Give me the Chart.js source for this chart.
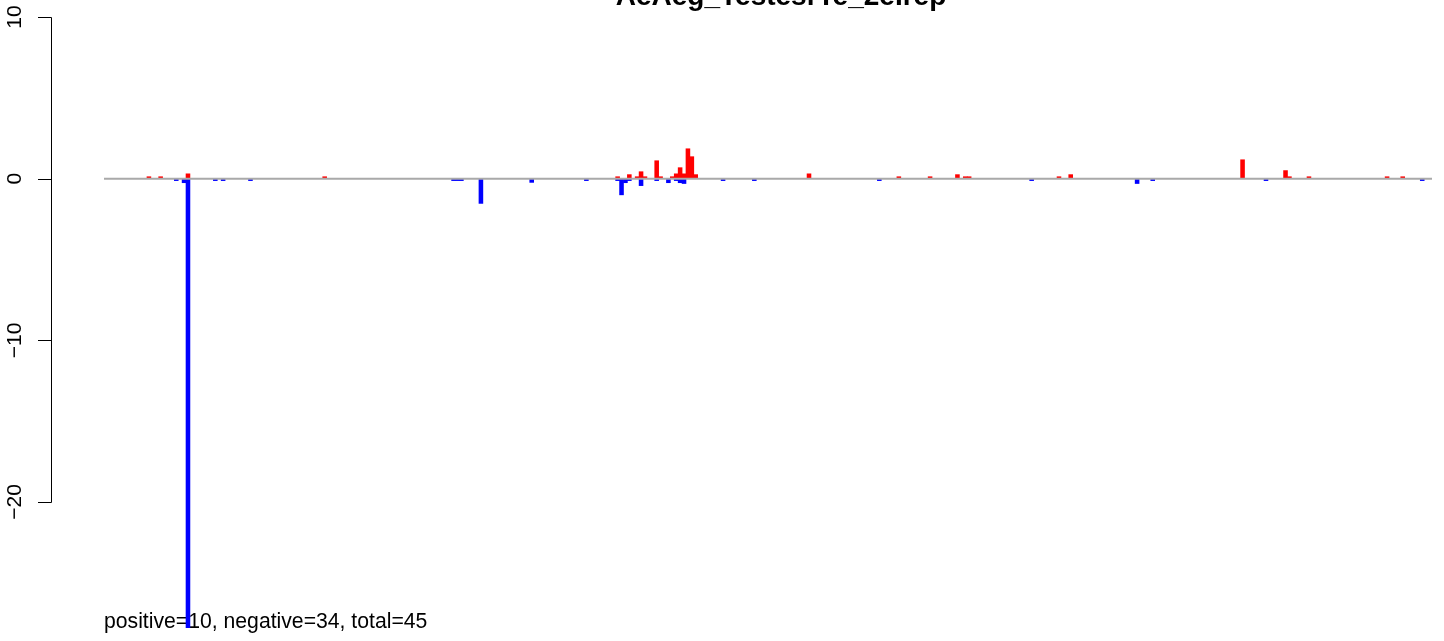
<!DOCTYPE html>
<html>
<head>
<meta charset="utf-8">
<script src="https://cdn.jsdelivr.net/npm/chart.js@4/dist/chart.umd.min.js"></script>
<style>
  html, body { margin: 0; padding: 0; background: #ffffff; }
  #wrap { width: 1444px; height: 641px; position: relative; }
</style>
</head>
<body>
<div id="wrap"><canvas id="c" width="1444" height="641"></canvas></div>
<script>
// ---- data ----
const chartTitle = "AeAeg_TestesrTe_2eIrep";
const summaryText = "positive=10, negative=34, total=45";
const nBins = 340;

const posBins   = [11, 14, 21, 56,
                   131, 134, 136, 137, 138, 141, 142, 145, 146, 147, 148, 149, 150, 151,
                   180, 203, 211, 218, 220, 221, 244, 247,
                   291, 302, 303, 308, 328, 332];
const posValues = [0.12, 0.12, 0.3, 0.12,
                   0.12, 0.25, 0.12, 0.43, 0.12, 1.11, 0.12, 0.12, 0.3, 0.68, 0.3, 1.85, 1.36, 0.25,
                   0.3, 0.12, 0.12, 0.25, 0.12, 0.12, 0.12, 0.25,
                   1.17, 0.5, 0.12, 0.12, 0.12, 0.12];

const negBins   = [18, 20, 21, 28, 30, 37, 89, 90, 91, 96, 109, 123,
                   131, 132, 133, 134, 137, 141, 144, 146, 147, 148, 158, 166,
                   198, 237, 264, 268, 297, 337];
const negValues = [-0.12, -0.25, -27.77, -0.12, -0.12, -0.12, -0.12, -0.12, -0.12, -1.53, -0.23, -0.12,
                   -0.12, -1.0, -0.25, -0.12, -0.43, -0.12, -0.25, -0.12, -0.25, -0.3, -0.12, -0.12,
                   -0.12, -0.12, -0.3, -0.12, -0.12, -0.12];

const yTicks = [-20, -10, 0, 10];
const yTickLabels = ["\u221220", "\u221210", "0", "10"];
const yMin = -28.598, yMax = 11.052;

// ---- build datasets ----
const posData = posBins.map((b, i) => ({ x: b + 0.5, y: posValues[i] }));
const negData = negBins.map((b, i) => ({ x: b + 0.5, y: negValues[i] }));
const zeroLine = [{ x: 0, y: 0 }, { x: nBins, y: 0 }];

const FONT = '"Liberation Sans", Arial, Helvetica, sans-serif';

const decorPlugin = {
  id: 'decor',
  beforeDatasetsDraw(chart) {
    const ctx = chart.ctx;
    ctx.save();
    ctx.fillStyle = '#000';
    ctx.font = '21.2px ' + FONT;
    ctx.textAlign = 'left';
    ctx.textBaseline = 'alphabetic';
    ctx.fillText(summaryText, chart.scales.x.getPixelForValue(0), 628);
    ctx.restore();
  },
  afterDraw(chart) {
    const ctx = chart.ctx;
    const y = chart.scales.y;
    const axisX = 51;
    ctx.save();
    ctx.strokeStyle = '#000';
    ctx.lineWidth = 1;
    ctx.beginPath();
    ctx.moveTo(axisX + 0.5, Math.round(y.getPixelForValue(yTicks[yTicks.length - 1])) + 0.5);
    ctx.lineTo(axisX + 0.5, Math.round(y.getPixelForValue(yTicks[0])) + 0.5);
    yTicks.forEach(t => {
      const py = Math.round(y.getPixelForValue(t)) + 0.5;
      ctx.moveTo(38, py);
      ctx.lineTo(axisX + 0.5, py);
    });
    ctx.stroke();
    ctx.fillStyle = '#000';
    ctx.font = '21px ' + FONT;
    ctx.textAlign = 'center';
    ctx.textBaseline = 'alphabetic';
    yTicks.forEach((t, i) => {
      const py = y.getPixelForValue(t);
      ctx.save();
      ctx.translate(21, py);
      ctx.rotate(-Math.PI / 2);
      ctx.fillText(yTickLabels[i], 0, 0);
      ctx.restore();
    });
    // title (clipped at top as in the reference)
    ctx.font = 'bold 28px ' + FONT;
    ctx.textAlign = 'center';
    ctx.fillText(chartTitle, 781, 5);
    ctx.restore();
  }
};

new Chart(document.getElementById('c'), {
  type: 'bar',
  data: {
    datasets: [
      { type: 'line', data: zeroLine, borderColor: '#A9A9A9', borderWidth: 2,
        pointRadius: 0, fill: false, order: 0 },
      { data: posData, backgroundColor: '#FF0000', borderWidth: 0, order: 1 },
      { data: negData, backgroundColor: '#0000FF', borderWidth: 0, order: 1 }
    ]
  },
  options: {
    responsive: false,
    animation: false,
    devicePixelRatio: 1,
    layout: { padding: { left: 104, right: 12, top: 0, bottom: 0 } },
    datasets: { bar: { grouped: false, barPercentage: 1, categoryPercentage: 1 } },
    plugins: { legend: { display: false }, title: { display: false }, tooltip: { enabled: false } },
    scales: {
      x: { type: 'linear', min: 0, max: nBins, offset: false, display: false },
      y: { type: 'linear', min: yMin, max: yMax, display: false }
    }
  },
  plugins: [decorPlugin]
});
</script>
</body>
</html>
